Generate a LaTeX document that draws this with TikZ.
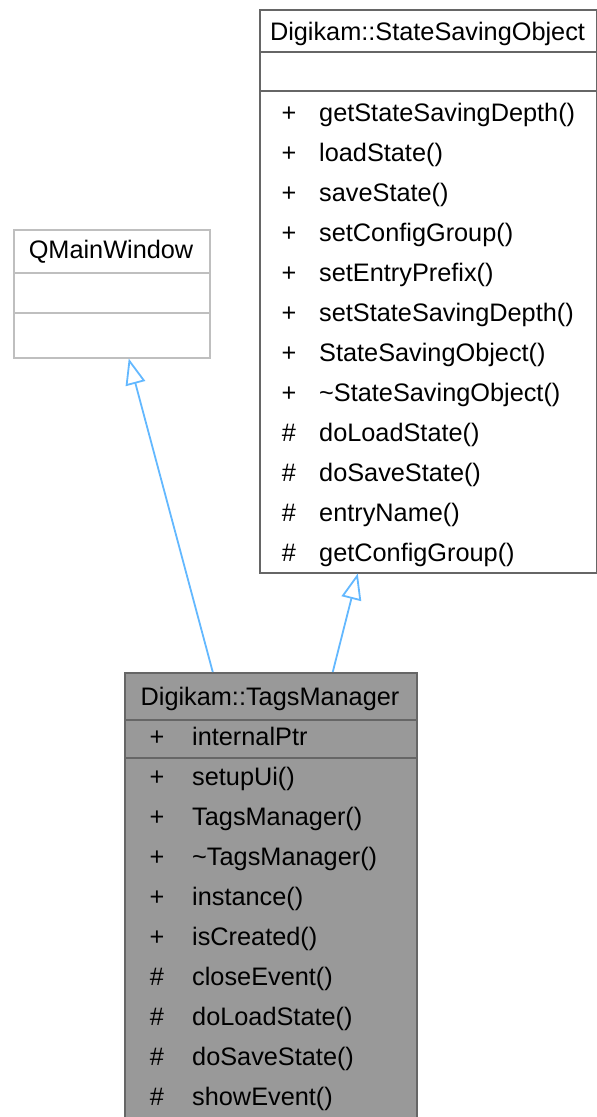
\documentclass[tikz,border=0pt]{standalone}
\usepackage{fontspec}
\setmainfont{Liberation Sans}
\usetikzlibrary{arrows.meta}
\definecolor{edgeblue}{HTML}{63B8FF}
\definecolor{lightframe}{HTML}{BFBFBF}
\definecolor{darkframe}{HTML}{666666}
\definecolor{classfill}{HTML}{999999}

\begin{document}
\begin{tikzpicture}[x=1pt, y=-1pt,
	every node/.style={font=\fontsize{25.3}{30}\selectfont, inner sep=0pt},
	box/.style={draw=#1, line width=1.5pt, anchor=north west},
	title/.style={anchor=base},
	sign/.style={anchor=base},
	member/.style={anchor=base west},
	derives/.style={draw=edgeblue, line width=1.8pt, -{Triangle[open, length=26pt, width=20pt]}}]
	\useasboundingbox (0,0) rectangle (597,1117);
	% QMainWindow
	\node[box=lightframe, minimum width=196pt, minimum height=128pt] (qmw) at (13,229) {};
	\node[title] (qmw-title) at (111,258) {QMainWindow};
	\draw[lightframe, line width=1.5pt] (qmw.west |- 0,273) -- (qmw.east |- 0,273);
	\draw[lightframe, line width=1.5pt] (qmw.west |- 0,313) -- (qmw.east |- 0,313);
	% Digikam::StateSavingObject
	\node[box=darkframe, minimum width=337pt, minimum height=563pt] (sso) at (259,9) {};
	\node[title] (sso-title) at (427.5,40) {Digikam::StateSavingObject};
	\draw[darkframe, line width=1.5pt] (sso.west |- 0,52) -- (sso.east |- 0,52);
	\draw[darkframe, line width=1.5pt] (sso.west |- 0,91) -- (sso.east |- 0,91);
	\foreach \sig/\name [count=\i from 0] in {+/getStateSavingDepth(), +/loadState(), +/saveState(), +/setConfigGroup(), +/setEntryPrefix(), +/setStateSavingDepth(), +/StateSavingObject(), +/\textasciitilde StateSavingObject(), \#/doLoadState(), \#/doSaveState(), \#/entryName(), \#/getConfigGroup()} {
		\node[sign] (sso-sig-\i) at (289,121+40*\i) {\sig};
		\node[member] (sso-fn-\i) at (319,121+40*\i) {\name};
	}
	% Digikam::TagsManager
	\node[box=darkframe, fill=classfill, minimum width=292pt, minimum height=460pt] (tm) at (124,672) {};
	\node[title] (tm-title) at (270,705) {Digikam::TagsManager};
	\draw[darkframe, line width=1.5pt] (tm.west |- 0,720) -- (tm.east |- 0,720);
	\node[sign] (tm-attr-sig) at (157,745) {+};
	\node[member] (tm-attr) at (192,745) {internalPtr};
	\draw[darkframe, line width=1.5pt] (tm.west |- 0,758) -- (tm.east |- 0,758);
	\foreach \sig/\name [count=\i from 0] in {+/setupUi(), +/TagsManager(), +/\textasciitilde TagsManager(), +/instance(), +/isCreated(), \#/closeEvent(), \#/doLoadState(), \#/doSaveState(), \#/showEvent()} {
		\node[sign] (tm-sig-\i) at (157,785+40*\i) {\sig};
		\node[member] (tm-fn-\i) at (192,785+40*\i) {\name};
	}
	% inheritance
	\draw[derives] ([xshift=-58pt]tm.north) -- ([xshift=17pt]qmw.south);
	\draw[derives] ([xshift=62pt]tm.north) -- ([xshift=-70.5pt]sso.south);
\end{tikzpicture}
\end{document}
